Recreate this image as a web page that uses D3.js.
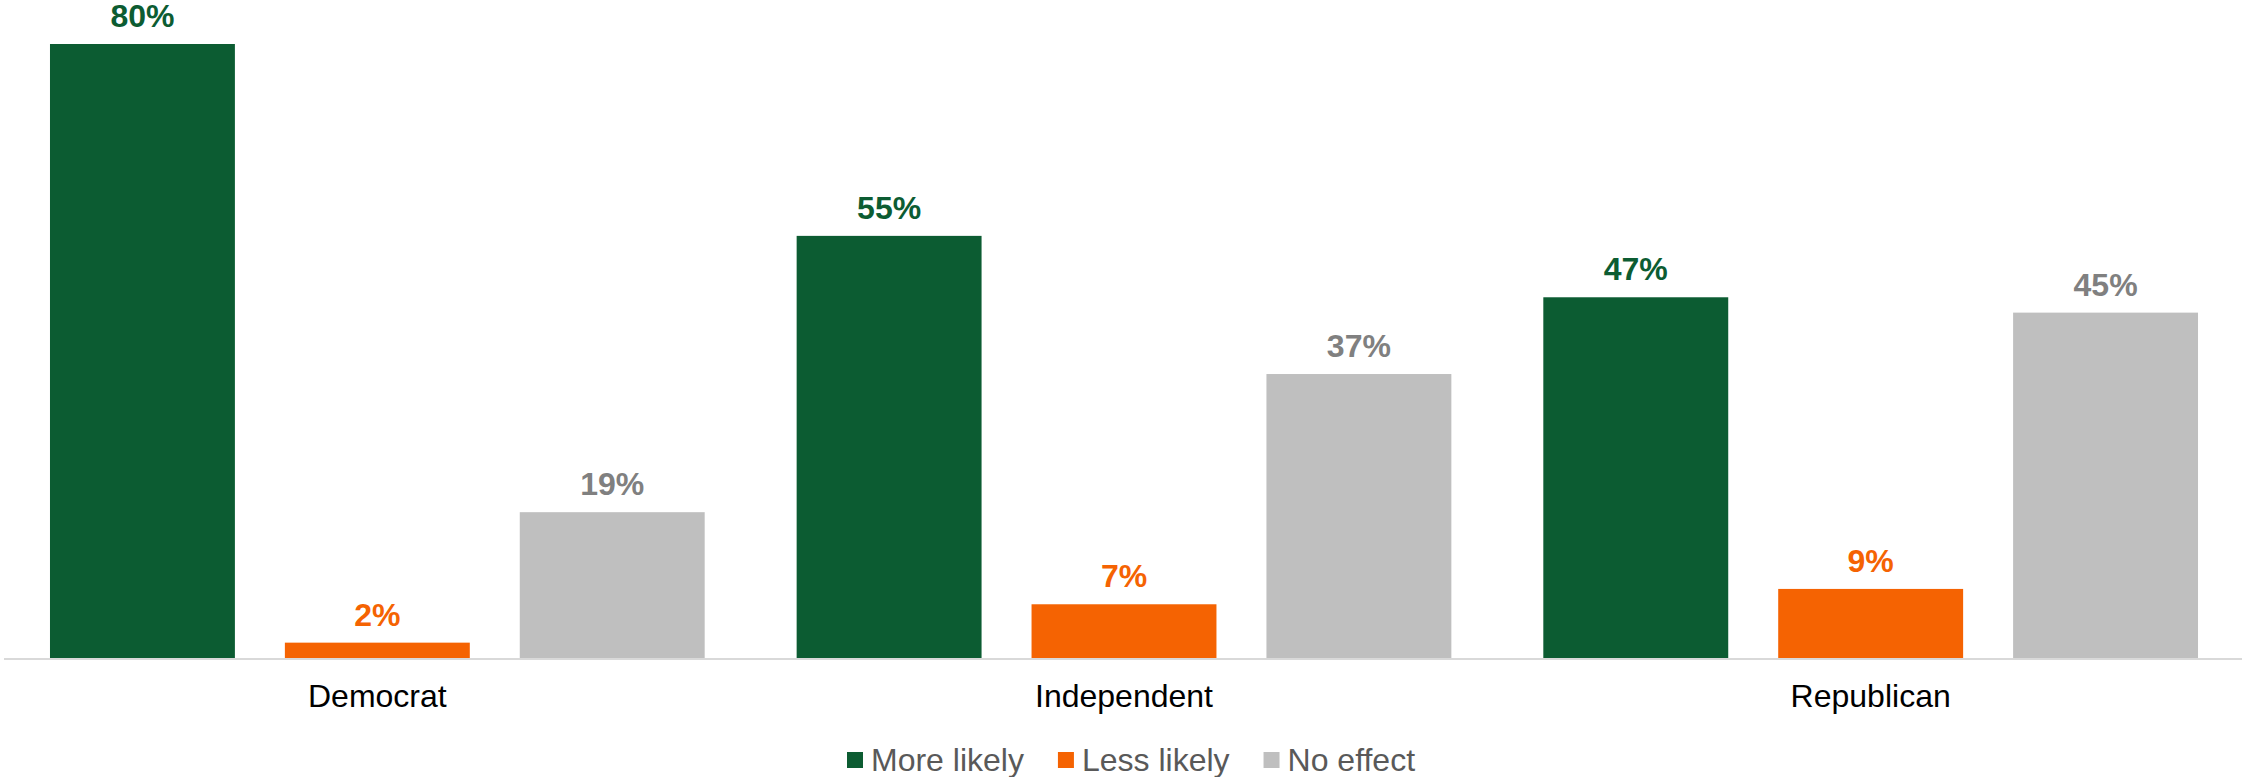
<!DOCTYPE html>
<html><head><meta charset="utf-8">
<script src="https://cdn.jsdelivr.net/npm/d3@7"></script>
<style>body{margin:0;background:#fff}svg{display:block}</style>
</head><body>
<svg id="c" width="2244" height="777"></svg>
<script>
const categories = ["Democrat", "Independent", "Republican"];
const seriesNames = ["More likely", "Less likely", "No effect"];
const moreLikely = [80, 55, 47];
const lessLikely = [2, 7, 9];
const noEffect = [19, 37, 45];
const seriesColors = ["#0c5c32", "#f56302", "#bfbfbf"];
const labelColors = ["#0c5c32", "#f56302", "#808080"];

const seriesValues = [moreLikely, lessLikely, noEffect];
const svg = d3.select("#c");
const baseY = 658;

const x0 = d3.scaleBand().domain(categories).range([4, 2244]).paddingInner(0).paddingOuter(0);
const x1 = d3.scaleBand().domain(seriesNames).range([0, x0.bandwidth()]).paddingInner(50/235).paddingOuter(46/235);
const y = d3.scaleLinear().domain([0, 80]).range([baseY, 44]);

const data = [];
categories.forEach((c, i) => seriesNames.forEach((s, j) => data.push({c, s, j, v: seriesValues[j][i]})));

svg.append("g").selectAll("rect").data(data).join("rect")
  .attr("x", d => x0(d.c) + x1(d.s))
  .attr("y", d => y(d.v))
  .attr("width", x1.bandwidth())
  .attr("height", d => baseY - y(d.v))
  .attr("fill", d => seriesColors[d.j]);

svg.append("g").selectAll("text").data(data).join("text")
  .attr("x", d => x0(d.c) + x1(d.s) + x1.bandwidth()/2)
  .attr("y", d => y(d.v) - 17)
  .attr("text-anchor", "middle")
  .attr("font-family", "Liberation Sans, Arial, sans-serif")
  .attr("font-weight", "bold")
  .attr("font-size", 32)
  .attr("fill", d => labelColors[d.j])
  .text(d => d.v + "%");

// axis
const ax = svg.append("g").attr("transform", `translate(0,${baseY})`)
  .call(d3.axisBottom(x0).tickSize(0).tickPadding(0));
ax.select(".domain").attr("stroke", "#d9d9d9").attr("stroke-width", 2).attr("d", "M4,1H2242");
ax.selectAll("text").attr("font-family", "Liberation Sans, Arial, sans-serif")
  .attr("font-size", 32).attr("fill", "#000").attr("dy", 0).attr("y", 49);

// legend
const lg = svg.append("g");
let lx = 847;
seriesNames.forEach((s, j) => {
  lg.append("rect").attr("x", lx).attr("y", 752).attr("width", 16).attr("height", 16).attr("fill", seriesColors[j]);
  const t = lg.append("text").attr("x", lx + 24).attr("y", 771)
    .attr("font-family", "Liberation Sans, Arial, sans-serif")
    .attr("font-size", 32).attr("fill", "#595959").text(s);
  lx += 24 + t.node().getComputedTextLength() + 34;
});
</script>
</body></html>
